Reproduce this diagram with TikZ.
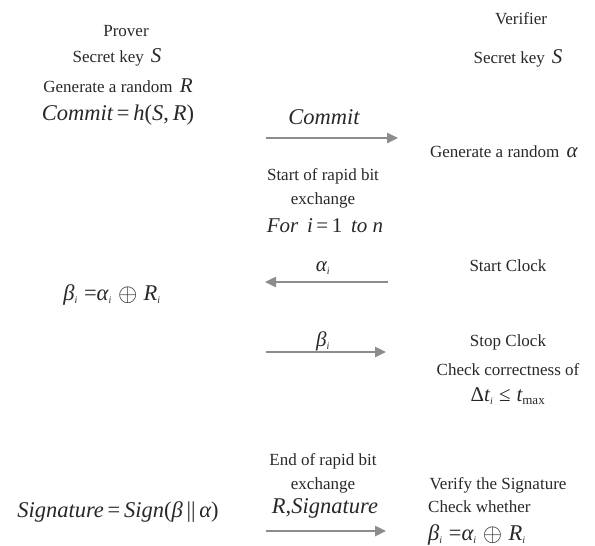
\documentclass[tikz,border=0pt]{standalone}
\usepackage{fontspec}
\usepackage{graphicx}
\setmainfont{Liberation Serif}
\usetikzlibrary{arrows.meta}
\definecolor{arr}{RGB}{140,140,140}
\definecolor{txt}{RGB}{40,40,40}
\tikzset{
  lbl/.style={inner sep=0pt, text=txt, font=\fontsize{17}{20}\selectfont},
  big/.style={inner sep=0pt, text=txt, font=\fontsize{22.5}{26}\selectfont\itshape},
  mid/.style={inner sep=0pt, text=txt, font=\fontsize{21}{24}\selectfont\itshape},
  eqn/.style={inner sep=0pt, text=txt, font=\fontsize{22.5}{26}\selectfont\itshape},
  msg/.style={draw=arr, line width=2.4pt, -{Triangle[length=11pt,width=10pt]}}
}
\newcommand{\sbi}[1]{\ensuremath{_{\mbox{\itshape\fontsize{10}{12}\selectfont #1}}}}
\newcommand{\bigS}[1]{\textit{\fontsize{21}{24}\selectfont #1}}
\newcommand{\xorsym}{\raisebox{-0.5pt}{\scalebox{1.2}{\ensuremath{\oplus}}}}
\begin{document}
\begin{tikzpicture}[x=1pt,y=-1pt]
\useasboundingbox (0,0) rectangle (595,546);
% Prover
\node[lbl] (prover) at (126,31) {Prover};
\node[lbl] (pkey) at (117,57) {Secret key\, \bigS{S}};
\node[lbl] (pgen) at (118,86) {Generate a random\, \bigS{R}};
\node[big] (pcommit) at (118,115) {Commit\,\upshape=\,\itshape h\upshape(\itshape S\upshape,\,\itshape R\upshape)};
% Verifier
\node[lbl] (verifier) at (521,19) {Verifier};
\node[lbl] (vkey) at (518,58) {Secret key\, \bigS{S}};
\node[lbl] (vgen) at (504,152) {Generate a random\, \bigS{α}};
% Commit message
\node[big] (lcommit) at (324,117) {Commit};
\coordinate (c1) at (266,138);
\coordinate (c2) at (398,138);
\draw[msg] (c1) -- (c2);
% start of exchange
\node[lbl, align=center] (start) at (323,188) {Start of rapid bit\\[4pt]exchange};
\node[mid] (fori) at (325,226) {For\, i\,\upshape=\,1\, \itshape to n};
% alpha_i
\node[mid] (lalpha) at (323,268) {α\sbi{i}};
\coordinate (a1) at (388,282);
\coordinate (a2) at (265,282);
\draw[msg] (a1) -- (a2);
\node[lbl] (startclk) at (508,266) {Start Clock};
\node[eqn] (pbeta) at (112,295) {β\sbi{i}\;\upshape=\itshape α\sbi{i}\;\xorsym\;\itshape R\sbi{i}};
% beta_i
\node[mid] (lbeta) at (323,341) {β\sbi{i}};
\coordinate (b1) at (266,352);
\coordinate (b2) at (386,352);
\draw[msg] (b1) -- (b2);
\node[lbl] (stopclk) at (508,342) {Stop Clock};
\node[lbl] (check) at (508,370) {Check correctness of};
\node[mid] (delta) at (508,396) {\upshape Δ\itshape t\sbi{i}\;\upshape ≤\;\itshape t\ensuremath{_{\mbox{\upshape\fontsize{13}{14}\selectfont max}}}};
% end
\node[lbl, align=center] (endex) at (323,473) {End of rapid bit\\[4pt]exchange};
\node[big] (psig) at (118,512) {Signature\,\upshape=\,\itshape Sign\upshape(\itshape β\upshape\,||\,\itshape α\upshape)};
\node[big] (lsig) at (325,508) {R\upshape,\itshape Signature};
\coordinate (s1) at (266,531);
\coordinate (s2) at (386,531);
\draw[msg] (s1) -- (s2);
\node[lbl] (verify) at (498,485) {Verify the Signature};
\node[lbl, anchor=west] (whether) at (428,507) {Check whether};
\node[eqn, anchor=west] (vbeta) at (428,535) {β\sbi{i}\;\upshape=\itshape α\sbi{i}\;\xorsym\;\itshape R\sbi{i}};
\end{tikzpicture}
\end{document}
